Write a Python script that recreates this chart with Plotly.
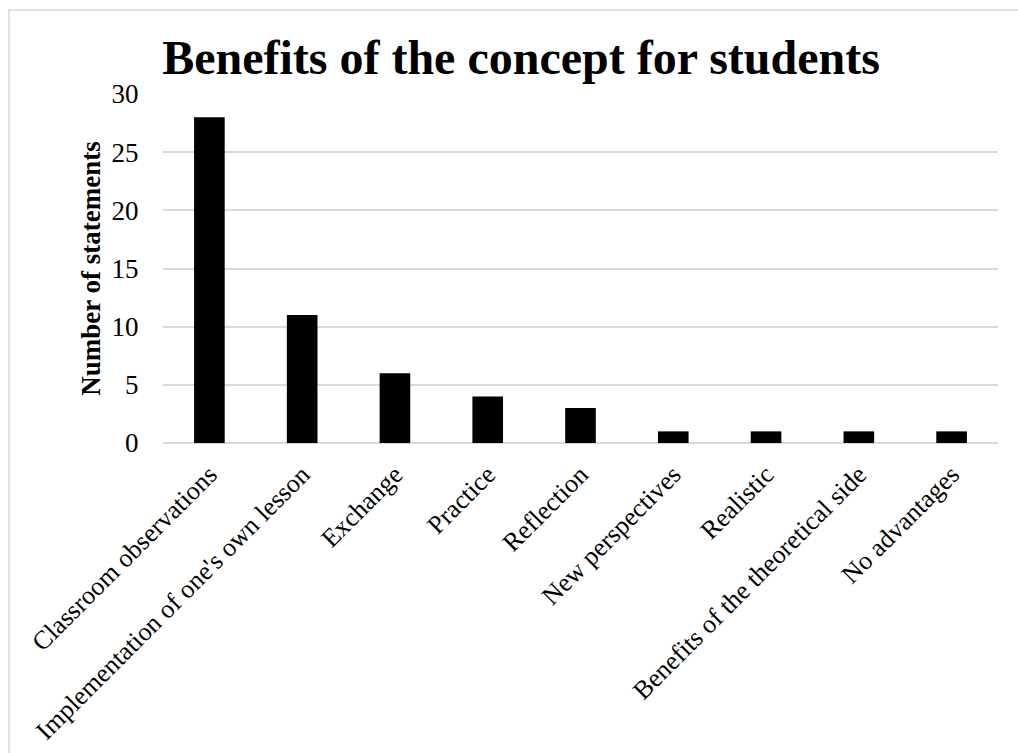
import plotly.graph_objects as go

categories = ["Classroom observations", "Implementation of one's own lesson", "Exchange",
              "Practice", "Reflection", "New perspectives", "Realistic",
              "Benefits of the theoretical side", "No advantages"]
values = [28, 11, 6, 4, 3, 1, 1, 1, 1]
y_ticks = [0, 5, 10, 15, 20, 25, 30]

W, H = 1018, 753
L, R, T, B = 163, 20, 94, 310
pw, ph = W - L - R, H - T - B

fig = go.Figure(go.Bar(x=categories, y=values, marker=dict(color="black", line=dict(width=0)),
                       width=0.33))

FONT = "Liberation Serif, Times New Roman, serif"
fig.update_layout(
    width=W, height=H,
    margin=dict(l=L, r=R, t=T, b=B, autoexpand=False),
    paper_bgcolor="white", plot_bgcolor="white",
    font=dict(family=FONT, color="black"),
    showlegend=False,
    title=dict(text="<b>Benefits of the concept for students</b>", font=dict(size=48, family=FONT, color="black"),
               x=521 / W, xanchor="center", xref="container", y=1 - 57 / H, yanchor="middle", yref="container"),
    xaxis=dict(tickangle=-45, tickfont=dict(size=26, family=FONT), showgrid=False, automargin=False,
               ticks="outside", ticklen=5, tickcolor="rgba(0,0,0,0)", showline=False),
    yaxis=dict(range=[0, 30], tickvals=y_ticks, tickfont=dict(size=27, family=FONT), automargin=False,
               showgrid=True, gridcolor="#d9d9d9", gridwidth=1.5, zeroline=True, zerolinecolor="#d9d9d9",
               zerolinewidth=1.5, ticks="outside", ticklen=18, tickcolor="rgba(0,0,0,0)",
               title=dict(text="<b>Number of statements</b>", font=dict(size=27, family=FONT), standoff=3)),
)

fig.add_shape(type="rect", xref="paper", yref="paper",
              x0=(9 - L) / pw, x1=(W + 5 - L) / pw,
              y0=(H - B - 10) / ph, y1=(H - B - (H + 5)) / ph,
              line=dict(color="#d9d9d9", width=1.5), fillcolor="rgba(0,0,0,0)", layer="below")

fig.write_html("out.html")
